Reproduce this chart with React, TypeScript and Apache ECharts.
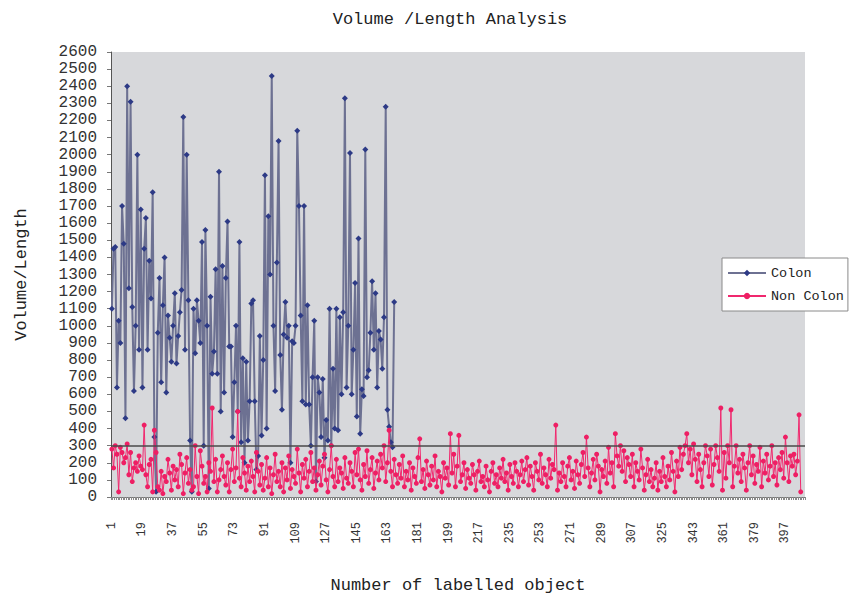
import React, { useEffect, useRef } from "react";
import * as echarts from "echarts";

const TITLE = "Volume /Length Analysis";
const X_NAME = "Number of labelled object";
const Y_NAME = "Volume/Length";
const CATEGORY_COUNT = 408;
const categories: string[] = Array.from({ length: CATEGORY_COUNT }, (_, i) => String(i + 1));
const THRESHOLD = 300;

const colon: number[] = [
  1100, 1450, 1460, 640, 1030, 900, 1700, 1480, 460, 2400,
  1220, 2310, 1110, 620, 1000, 2000, 860, 1680, 640, 1450,
  1630, 860, 1380, 1160, 1780, 350, 30, 960, 1280, 670,
  1120, 1400, 610, 1060, 930, 790, 1000, 1190, 780, 940,
  1080, 1210, 2220, 860, 2000, 1150, 330, 30, 1100, 840,
  1150, 1030, 900, 1490, 300, 1560, 1000, 50, 1170, 720,
  850, 1330, 720, 1900, 500, 1350, 610, 1280, 1610, 880,
  880, 350, 670, 1000, 500, 1490, 320, 810, 200, 790,
  330, 560, 1130, 1150, 560, 160, 240, 940, 360, 800,
  1880, 400, 1640, 1300, 2460, 1000, 620, 1370, 2080, 830,
  510, 950, 1140, 930, 1000, 200, 910, 900, 1000, 2140,
  1700, 1060, 560, 1700, 540, 1120, 540, 300, 700, 1030,
  90, 700, 610, 350, 690, 230, 450, 330, 1100, 300,
  750, 400, 1100, 390, 1050, 600, 1080, 2330, 640, 1000,
  2010, 600, 860, 1250, 470, 1510, 370, 630, 590, 2030,
  700, 740, 960, 1260, 860, 1190, 640, 970, 920, 750,
  1050, 2280, 510, 410, 320, 290, 1140,
];

const nonColon: number[] = [
  280, 170, 300, 250, 30, 290, 260, 200, 230, 310, 130, 260, 90, 170, 200, 150, 240, 180, 160, 420,
  130, 60, 190, 220, 30, 390, 260, 60, 40, 150, 20, 120, 90, 220, 140, 40, 180, 100, 160, 60,
  250, 190, 20, 140, 230, 80, 160, 40, 60, 300, 120, 20, 270, 180, 80, 120, 30, 200, 150, 520,
  90, 220, 30, 100, 160, 240, 120, 70, 200, 30, 160, 280, 90, 170, 500, 110, 60, 230, 140, 40,
  180, 90, 210, 120, 30, 260, 150, 70, 190, 40, 110, 230, 60, 170, 20, 130, 250, 90, 150, 60,
  200, 30, 170, 100, 240, 50, 160, 120, 80, 280, 140, 30, 190, 110, 220, 60, 150, 260, 90, 170,
  40, 130, 210, 70, 180, 250, 100, 30, 160, 300, 120, 60, 220, 90, 170, 140, 50, 230, 110, 80,
  200, 150, 60, 260, 130, 280, 100, 40, 190, 120, 270, 80, 160, 230, 50, 140, 210, 100, 250, 170,
  300, 90, 200, 390, 150, 60, 220, 130, 80, 190, 110, 240, 60, 150, 100, 200, 40, 170, 120, 80,
  230, 340, 90, 160, 50, 210, 130, 70, 180, 100, 240, 60, 150, 120, 30, 200, 110, 170, 70, 370,
  140, 250, 60, 180, 360, 90, 130, 200, 50, 160, 110, 80, 190, 130, 40, 150, 210, 90, 120, 60,
  180, 100, 30, 150, 200, 80, 130, 60, 170, 110, 220, 90, 140, 40, 190, 120, 80, 200, 150, 60,
  130, 210, 90, 160, 230, 70, 180, 120, 40, 200, 150, 100, 250, 80, 170, 130, 60, 220, 110, 190,
  160, 420, 40, 140, 90, 200, 120, 60, 180, 230, 100, 150, 50, 210, 130, 80, 190, 260, 120, 350,
  170, 60, 140, 220, 100, 250, 180, 30, 160, 120, 210, 80, 290, 140, 200, 60, 370, 240, 180, 300,
  150, 270, 90, 230, 190, 120, 250, 60, 200, 150, 100, 280, 170, 40, 130, 220, 90, 160, 60, 110,
  200, 40, 150, 90, 230, 120, 60, 180, 100, 260, 150, 30, 210, 120, 290, 160, 250, 300, 370, 200,
  280, 130, 310, 220, 90, 250, 160, 60, 200, 300, 240, 120, 280, 70, 190, 300, 230, 150, 520, 40,
  260, 110, 300, 200, 510, 60, 180, 300, 140, 220, 90, 250, 170, 40, 200, 300, 130, 240, 80, 190,
  150, 290, 60, 210, 140, 250, 100, 180, 300, 120, 200, 70, 230, 160, 260, 110, 350, 200, 90, 240,
  180, 250, 130, 210, 480, 30,
];

const MONO = "'Liberation Mono', 'DejaVu Sans Mono', monospace";

export default function App() {
  const ref = useRef<HTMLDivElement>(null);
  useEffect(() => {
    document.body.style.margin = "0";
    if (!ref.current) return;
    const chart = echarts.init(ref.current, undefined, { renderer: "svg" });
    chart.setOption({
      animation: false,
      backgroundColor: "#ffffff",
      title: {
        text: TITLE,
        left: 445,
        top: 6,
        textAlign: "center",
        textStyle: { fontFamily: MONO, fontSize: 17, fontWeight: "normal", color: "#222" },
      },
      legend: {
        orient: "vertical",
        left: 722,
        top: 258,
        padding: [7, 4, 7, 5],
        itemGap: 7,
        itemWidth: 38,
        itemHeight: 8,
        backgroundColor: "#ffffff",
        borderColor: "#8a8a8a",
        borderWidth: 1,
        borderRadius: 0,
        textStyle: { fontFamily: MONO, fontSize: 13.5, color: "#222", lineHeight: 16 },
        data: ["Colon", "Non Colon"],
      },
      grid: {
        left: 111,
        right: 52,
        top: 52,
        bottom: 99,
        show: true,
        backgroundColor: "#d7d8db",
        borderWidth: 0,
        containLabel: false,
        outerBoundsMode: "none",
      },
      xAxis: {
        type: "category",
        data: categories,
        boundaryGap: true,
        name: X_NAME,
        nameLocation: "middle",
        nameGap: 80,
        nameTextStyle: { fontFamily: MONO, fontSize: 17, color: "#222" },
        axisLine: { show: true, lineStyle: { color: "#777", width: 1 } },
        axisTick: { show: true, interval: 0, length: 3, lineStyle: { color: "#888" } },
        axisLabel: {
          interval: 17,
          rotate: 90,
          margin: 25,
          fontFamily: MONO,
          fontSize: 12,
          color: "#333",
        },
        splitLine: { show: false },
      },
      yAxis: {
        type: "value",
        min: 0,
        max: 2600,
        interval: 100,
        name: Y_NAME,
        nameLocation: "middle",
        nameGap: 81,
        nameTextStyle: { fontFamily: MONO, fontSize: 17, color: "#222" },
        axisLine: { show: true, lineStyle: { color: "#555", width: 1 } },
        axisTick: { show: true, length: 4, lineStyle: { color: "#777" } },
        axisLabel: {
          fontFamily: MONO,
          fontSize: 16,
          color: "#333",
          margin: 14,
          formatter: (v: number) => String(v),
        },
        splitLine: { show: false },
      },
      series: [
        {
          name: "Colon",
          type: "line",
          data: colon,
          symbol: "diamond",
          symbolSize: 6,
          showAllSymbol: true,
          lineStyle: { color: "#6d7192", width: 2 },
          itemStyle: { color: "#2d3a86" },
          z: 2,
          markLine: {
            silent: true,
            symbol: "none",
            label: { show: false },
            lineStyle: { color: "#4a4a4a", width: 1.5, type: "solid" },
            data: [{ yAxis: THRESHOLD }],
            z: 5,
          },
        },
        {
          name: "Non Colon",
          type: "line",
          data: nonColon,
          symbol: "circle",
          symbolSize: 5,
          showAllSymbol: true,
          lineStyle: { color: "#f0286e", width: 1 },
          itemStyle: { color: "#ee1f64" },
          z: 3,
        },
      ],
    });
    return () => chart.dispose();
  }, []);
  return <div ref={ref} style={{ width: 857, height: 596 }} />;
}
